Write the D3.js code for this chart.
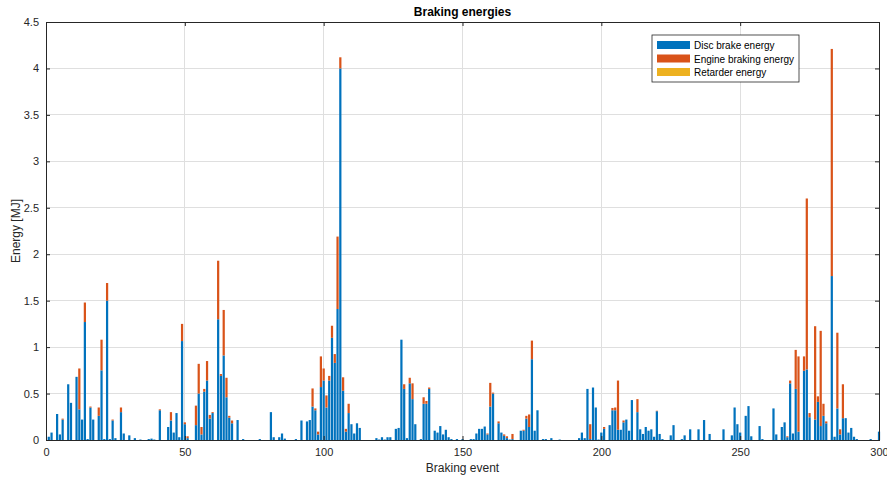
<!DOCTYPE html>
<html>
<head>
<meta charset="utf-8">
<script src="https://cdn.jsdelivr.net/npm/d3@7"></script>
<style>
  body { margin: 0; background: #fff; }
  svg { display: block; font-family: "Liberation Sans", Arial, Helvetica, sans-serif; }
</style>
</head>
<body>
<svg id="chart" width="887" height="480"></svg>
<script>
// Braking events that have non-zero energy (others are zero)
const events = [1,2,4,5,6,8,9,11,12,13,14,15,16,17,19,20,21,22,23,24,25,27,28,30,32,34,37,38,39,41,44,45,46,47,48,49,50,51,54,55,56,57,58,59,60,62,63,64,65,66,67,69,71,77,81,82,84,85,86,90,92,94,95,96,97,98,99,100,101,102,103,104,105,106,107,108,109,110,111,112,113,119,120,121,122,123,124,126,127,128,129,130,131,132,133,135,136,137,138,140,141,142,143,144,145,146,148,150,153,154,155,156,157,158,159,160,161,163,164,165,166,167,168,171,172,173,174,175,176,177,179,180,182,185,192,193,194,195,196,197,198,199,200,201,203,204,205,206,207,208,209,210,211,213,214,215,216,217,218,219,220,221,222,225,226,229,230,232,235,237,239,244,247,248,249,250,252,253,254,257,258,262,263,265,266,267,268,269,270,271,273,274,275,277,278,279,280,281,283,284,285,286,287,288,289,290,291,292,297,300];
// Disc brake energy [MJ]
const discEnergy = [0.035,0.08,0.28,0.06,0.22,0.6,0.4,0.68,0.33,0.22,1.27,0.01,0.35,0.22,0.26,0.75,0.01,1.5,0.01,0.21,0.02,0.30,0.07,0.05,0.02,0.005,0.01,0.015,0.005,0.32,0.14,0.21,0.08,0.29,0.03,1.065,0.17,0.02,0.16,0.50,0.06,0.52,0.64,0.23,0.29,1.30,0.69,0.91,0.46,0.24,0.18,0.215,0.01,0.01,0.30,0.03,0.03,0.07,0.015,0.01,0.21,0.20,0.215,0.36,0.32,0.06,0.57,0.64,0.35,0.64,1.10,0.83,1.41,4.0,0.53,0.09,0.29,0.17,0.07,0.18,0.13,0.02,0.005,0.03,0.005,0.03,0.03,0.12,0.13,1.08,0.55,0.02,0.61,0.44,0.17,0.01,0.39,0.39,0.55,0.10,0.08,0.15,0.06,0.11,0.03,0.01,0.01,0.01,0.01,0.01,0.07,0.12,0.12,0.145,0.06,0.36,0.50,0.18,0.08,0.045,0.02,0.005,0.01,0.10,0.10,0.23,0.14,0.87,0.10,0.32,0.01,0.01,0.02,0.005,0.02,0.08,0.02,0.55,0.01,0.565,0.35,0.005,0.08,0.12,0.16,0.32,0.32,0.11,0.11,0.19,0.22,0.10,0.43,0.30,0.115,0.065,0.14,0.10,0.115,0.035,0.31,0.065,0.01,0.05,0.16,0.01,0.05,0.115,0.115,0.215,0.065,0.115,0.05,0.35,0.17,0.08,0.26,0.365,0.04,0.15,0.01,0.34,0.06,0.14,0.19,0.03,0.61,0.07,0.55,0.09,0.745,0.76,0.245,0.22,0.41,0.15,0.26,0.18,1.765,0.035,0.34,0.06,0.235,0.235,0.08,0.13,0.035,0.01,0.01,0.09];
// Engine braking energy [MJ]
const engineEnergy = [
  0,0,0,0,0.01,0,0,0,0.44,0,
  0.21,0,0.01,0,0.09,0.33,0,0.19,0,0.01,
  0,0.05,0,0,0,0,0,0,0,0.01,
  0,0.09,0,0,0,0.185,0.02,0.02,0.21,0.32,
  0.08,0.03,0.21,0.04,0.01,0.63,0.02,0.49,0.21,0.02,
  0.03,0,0,0,0,0,0,0,0,0,
  0,0,0,0.195,0.02,0.03,0.33,0.13,0.13,0.05,
  0.13,0.095,0.78,0.12,0.145,0.03,0.10,0,0,0,
  0,0,0,0,0,0,0,0,0,0,
  0.05,0,0.06,0.17,0,0,0.07,0.03,0.015,0,
  0,0,0,0,0,0,0,0,0,0,
  0,0,0,0,0.01,0.255,0.01,0.02,0,0.015,
  0.02,0,0.055,0,0.01,0.03,0.135,0.20,0,0,
  0,0,0,0,0,0,0,0,0.16,0,
  0,0,0,0.02,0,0.025,0.03,0.53,0,0.02,
  0,0,0,0.14,0,0,0,0,0,0,
  0.005,0,0,0,0,0,0,0,0,0,
  0,0,0,0,0,0,0,0,0,0,
  0,0,0,0,0,0.01,0.03,0,0.42,0.81,
  0.155,1.84,0.045,1.005,0.06,1.025,0.13,0.02,2.445,0,
  0.815,0.055,0.365,0,0,0,0,0,0,0
];
// Retarder energy [MJ] (not used in any event)
const retarderEnergy = events.map(() => 0);

const seriesNames = ["Disc brake energy", "Engine braking energy", "Retarder energy"];
const seriesColors = ["#0072BD", "#D95319", "#EDB120"];
const xTicks = [0, 50, 100, 150, 200, 250, 300];
const yTicks = [0, 0.5, 1, 1.5, 2, 2.5, 3, 3.5, 4, 4.5];

const svg = d3.select("#chart");
const W = 887, H = 480;
const m = { left: 46, right: 8, top: 22, bottom: 40 };
const pw = W - m.left - m.right, ph = H - m.top - m.bottom;

const x = d3.scaleLinear().domain([0, 300]).range([m.left, m.left + pw]);
const y = d3.scaleLinear().domain([0, 4.5]).range([m.top + ph, m.top]);

const rows = events.map((e, i) => ({ ev: e, disc: discEnergy[i], engine: engineEnergy[i] || 0, retarder: retarderEnergy[i] }));
const keys = ["disc", "engine", "retarder"];
const stacked = d3.stack().keys(keys)(rows);

// grid
const grid = svg.append("g");
grid.selectAll(".gx").data(xTicks).enter().append("line")
  .attr("x1", d => x(d)).attr("x2", d => x(d)).attr("y1", m.top).attr("y2", m.top + ph)
  .attr("stroke", "#dfdfdf").attr("stroke-width", 1).attr("shape-rendering", "crispEdges");
grid.selectAll(".gy").data(yTicks).enter().append("line")
  .attr("x1", m.left).attr("x2", m.left + pw).attr("y1", d => y(d)).attr("y2", d => y(d))
  .attr("stroke", "#dfdfdf").attr("stroke-width", 1).attr("shape-rendering", "crispEdges");

// bars
const step = x(1) - x(0);
const bw = step * 0.8;
stacked.forEach((s, k) => {
  svg.append("g").attr("fill", seriesColors[k])
    .selectAll("rect").data(s.filter(d => d[1] - d[0] > 0)).enter().append("rect")
    .attr("x", d => x(d.data.ev) - bw / 2)
    .attr("width", bw)
    .attr("y", d => y(d[1]))
    .attr("height", d => y(d[0]) - y(d[1]));
});

// axes
const axisColor = "#262626";
const xAxis = svg.append("g").attr("transform", `translate(0,${m.top + ph})`)
  .call(d3.axisBottom(x).tickValues(xTicks).tickSize(-4).tickPadding(8).tickFormat(d3.format("d")));
const xAxisTop = svg.append("g").attr("transform", `translate(0,${m.top})`)
  .call(d3.axisTop(x).tickValues(xTicks).tickSize(-4).tickFormat(""));
const yAxis = svg.append("g").attr("transform", `translate(${m.left},0)`)
  .call(d3.axisLeft(y).tickValues(yTicks).tickSize(-4).tickPadding(7).tickFormat(d => d3.format("")(d)));
const yAxisR = svg.append("g").attr("transform", `translate(${m.left + pw},0)`)
  .call(d3.axisRight(y).tickValues(yTicks).tickSize(-4).tickFormat(""));
[xAxis, xAxisTop, yAxis, yAxisR].forEach(a => {
  a.selectAll("path").attr("stroke", axisColor).attr("shape-rendering", "crispEdges");
  a.selectAll("line").attr("stroke", axisColor);
  a.selectAll("text").attr("fill", axisColor).style("font-size", "11px");
});

// labels
svg.append("text").attr("x", m.left + pw / 2).attr("y", 16).attr("text-anchor", "middle")
  .style("font-size", "12px").style("font-weight", "bold").attr("fill", "#000").text("Braking energies");
svg.append("text").attr("x", m.left + pw / 2).attr("y", 472).attr("text-anchor", "middle")
  .style("font-size", "12px").attr("fill", axisColor).text("Braking event");
svg.append("text").attr("transform", `translate(20,${m.top + ph / 2}) rotate(-90)`).attr("text-anchor", "middle")
  .style("font-size", "12px").attr("fill", axisColor).text("Energy [MJ]");

// legend
const lg = svg.append("g").attr("transform", "translate(652,35)");
lg.append("rect").attr("width", 147).attr("height", 47).attr("fill", "#fff").attr("stroke", "#262626").attr("stroke-width", 0.8);
seriesNames.forEach((n, i) => {
  lg.append("rect").attr("x", 5).attr("y", 6 + i * 13.5).attr("width", 33).attr("height", 8).attr("fill", seriesColors[i]);
  lg.append("text").attr("x", 42).attr("y", 14 + i * 13.5).style("font-size", "10px").attr("fill", "#000").text(n);
});
</script>
</body>
</html>
